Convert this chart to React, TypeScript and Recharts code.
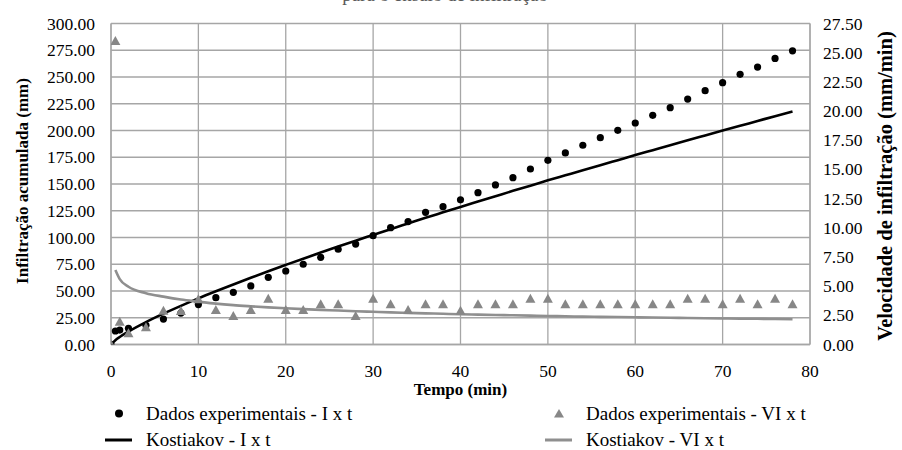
import { CartesianGrid, ComposedChart, Legend, Line, Scatter, XAxis, YAxis } from 'recharts'

// tempo (min) das leituras
const tempo = [
  0, 0.5, 1, 2, 4, 6, 8, 10, 12, 14, 16, 18, 20, 22, 24, 26, 28, 30, 32, 34, 36, 38,
  40, 42, 44, 46, 48, 50, 52, 54, 56, 58, 60, 62, 64, 66, 68, 70, 72, 74, 76, 78,
]

// infiltração acumulada observada (mm)
const infExp = [
  0, 12.6, 13.5, 15.1, 18.0, 23.8, 29.4, 37.3, 43.8, 48.8, 54.7, 62.8, 68.7, 75.0,
  81.5, 89.0, 93.9, 101.7, 109.2, 114.9, 123.5, 128.8, 135.2, 141.9, 149.1, 155.9,
  164.0, 172.1, 179.0, 186.2, 193.3, 200.2, 207.0, 214.2, 221.3, 229.4, 237.2, 244.7,
  252.5, 259.3, 267.4, 274.5,
]

// velocidade de infiltração observada (mm/min)
const velExp = [
  0, 26.0, 1.95, 0.96, 1.47, 2.9, 2.87, 3.87, 2.96, 2.44, 2.96, 3.93, 2.96, 2.96,
  3.44, 3.44, 2.44, 3.93, 3.44, 2.96, 3.44, 3.44, 2.9, 3.44, 3.44, 3.44, 3.93, 3.93,
  3.44, 3.44, 3.44, 3.44, 3.44, 3.44, 3.44, 3.93, 3.93, 3.44, 3.93, 3.44, 3.93, 3.44,
]

// ajuste de Kostiakov
const kostI = [
  0, 4.05, 7.0, 12.1, 20.9, 28.8, 36.1, 43.1, 49.7, 56.1, 62.4, 68.5, 74.4, 80.2,
  85.9, 91.5, 97.0, 102.4, 107.8, 113.1, 118.4, 123.5, 128.6, 133.6, 138.6, 143.6,
  148.4, 153.4, 158.1, 162.8, 167.6, 172.3, 177.0, 181.6, 186.2, 190.9, 195.4, 199.9,
  204.4, 208.9, 213.4, 217.8,
]
const kostVI = [
  null, 6.38, 5.6, 4.95, 4.4, 4.1, 3.85, 3.67, 3.5, 3.37, 3.27, 3.18, 3.1, 3.03,
  2.97, 2.91, 2.85, 2.8, 2.75, 2.71, 2.67, 2.63, 2.59, 2.56, 2.53, 2.5, 2.47, 2.44,
  2.42, 2.39, 2.37, 2.35, 2.33, 2.31, 2.29, 2.27, 2.25, 2.23, 2.21, 2.2, 2.18, 2.16,
]

const xTicks = [0, 10, 20, 30, 40, 50, 60, 70, 80]
const leftTicks = [0, 25, 50, 75, 100, 125, 150, 175, 200, 225, 250, 275, 300]
const rightTicks = [0, 2.5, 5, 7.5, 10, 12.5, 15, 17.5, 20, 22.5, 25, 27.5]

const expData = tempo.map((t, i) => ({ t, inf: infExp[i], vel: velExp[i] }))
const kostData = tempo.map((t, i) => ({ t, kI: kostI[i], kVI: kostVI[i] }))

const FONT = 'Liberation Serif'
const GRID = '#a6a6a6'
const GRAY_MARK = '#878787'
const GRAY_LINE = '#8f8f8f'

const Triangle = (props: any) => {
  const { cx, cy } = props
  if (cx == null || cy == null) return null
  return <polygon points={`${cx - 5},${cy + 4} ${cx + 5},${cy + 4} ${cx},${cy - 5}`} fill={GRAY_MARK} />
}

const Dot = (props: any) => {
  const { cx, cy } = props
  if (cx == null || cy == null) return null
  return <circle cx={cx} cy={cy} r={3.6} fill="#000" />
}

// ticks desenhados à mão para garantir a fonte serifada
const XTick = ({ x, y, payload }: any) => (
  <text x={x} y={y + 12} textAnchor="middle" fontFamily={FONT} fontSize={17.5} fill="#000">
    {payload.value}
  </text>
)
const LeftTick = ({ x, y, payload }: any) => (
  <text x={x} y={y + 6} textAnchor="end" fontFamily={FONT} fontSize={17.5} fill="#000">
    {Number(payload.value).toFixed(2)}
  </text>
)
const RightTick = ({ x, y, payload }: any) => (
  <text x={x} y={y + 6} textAnchor="start" fontFamily={FONT} fontSize={17.5} fill="#000">
    {Number(payload.value).toFixed(2)}
  </text>
)

const renderLegend = () => (
  <svg width={902} height={450} style={{ position: 'absolute', left: 0, top: 0 }}>
    <g fontFamily={FONT} fontSize={19} fill="#000">
      <circle cx={119} cy={413.5} r={4} fill="#000" />
      <text x={146} y={420}>Dados experimentais - I x t</text>
      <polygon points="554,417.5 564,417.5 559,409" fill={GRAY_MARK} />
      <text x={586} y={420}>Dados experimentais - VI x t</text>
      <line x1={105} x2={132} y1={440} y2={440} stroke="#000" strokeWidth={3} />
      <text x={146} y={446}>Kostiakov - I x t</text>
      <line x1={545} x2={572} y1={440} y2={440} stroke={GRAY_LINE} strokeWidth={3} />
      <text x={586} y={446}>Kostiakov - VI x t</text>
    </g>
  </svg>
)

export default function App() {
  return (
    <div style={{ position: 'absolute', left: 0, top: 0, width: 902, height: 450, background: '#fff' }}>
      <svg width={902} height={20} style={{ position: 'absolute', left: 0, top: 0 }}>
        <text x={445} y={1} textAnchor="middle" fontFamily={FONT} fontSize={19} fill="#595959">
          para o ensaio de infiltração
        </text>
      </svg>
      <ComposedChart width={902} height={450} margin={{ top: 23.5, right: 0, bottom: 45.5, left: 0 }}>
        <CartesianGrid yAxisId="left" stroke={GRID} strokeWidth={1.3} />
        <XAxis
          type="number"
          dataKey="t"
          domain={[0, 80]}
          ticks={xTicks}
          allowDataOverflow
          height={60}
          tickSize={0}
          tickMargin={20}
          tickLine={false}
          stroke={GRID}
          strokeWidth={1.3}
          tick={<XTick />}
          label={{
            content: ({ viewBox }: any) => (
              <text
                x={viewBox.x + viewBox.width / 2}
                y={viewBox.y + 50}
                textAnchor="middle"
                fontFamily={FONT}
                fontWeight="bold"
                fontSize={17}
                fill="#000"
              >
                Tempo (min)
              </text>
            ),
          }}
        />
        <YAxis
          yAxisId="left"
          type="number"
          domain={[0, 300]}
          ticks={leftTicks}
          allowDataOverflow
          width={111}
          tickSize={0}
          tickMargin={16}
          tickLine={false}
          stroke={GRID}
          strokeWidth={1.3}
          tick={<LeftTick />}
          label={{
            content: () => (
              <text
                x={28}
                y={181}
                transform="rotate(-90 28 181)"
                textAnchor="middle"
                fontFamily={FONT}
                fontWeight="bold"
                fontSize={17}
                fill="#000"
              >
                Infiltração acumulada (mm)
              </text>
            ),
          }}
        />
        <YAxis
          yAxisId="right"
          orientation="right"
          type="number"
          domain={[0, 27.5]}
          ticks={rightTicks}
          allowDataOverflow
          width={92}
          tickSize={0}
          tickMargin={13}
          tickLine={false}
          stroke={GRID}
          strokeWidth={1.3}
          tick={<RightTick />}
          label={{
            content: () => (
              <text
                x={892}
                y={186}
                transform="rotate(-90 892 186)"
                textAnchor="middle"
                fontFamily={FONT}
                fontWeight="bold"
                fontSize={20.5}
                fill="#000"
              >
                Velocidade de infiltração (mm/min)
              </text>
            ),
          }}
        />
        <Scatter
          name="Dados experimentais - I x t"
          yAxisId="left"
          data={expData}
          dataKey="inf"
          shape={<Dot />}
          isAnimationActive={false}
        />
        <Scatter
          name="Dados experimentais - VI x t"
          yAxisId="right"
          data={expData}
          dataKey="vel"
          shape={<Triangle />}
          isAnimationActive={false}
        />
        <Line
          name="Kostiakov - I x t"
          yAxisId="left"
          data={kostData}
          dataKey="kI"
          type="monotone"
          stroke="#000"
          strokeWidth={2.6}
          dot={false}
          isAnimationActive={false}
        />
        <Line
          name="Kostiakov - VI x t"
          yAxisId="right"
          data={kostData}
          dataKey="kVI"
          type="monotone"
          stroke={GRAY_LINE}
          strokeWidth={2.6}
          dot={false}
          isAnimationActive={false}
        />
        <Legend
          layout="horizontal"
          verticalAlign="middle"
          align="center"
          wrapperStyle={{ position: 'absolute', left: 0, top: 0, width: 902, height: 450, pointerEvents: 'none' }}
          content={renderLegend}
        />
      </ComposedChart>
    </div>
  )
}
